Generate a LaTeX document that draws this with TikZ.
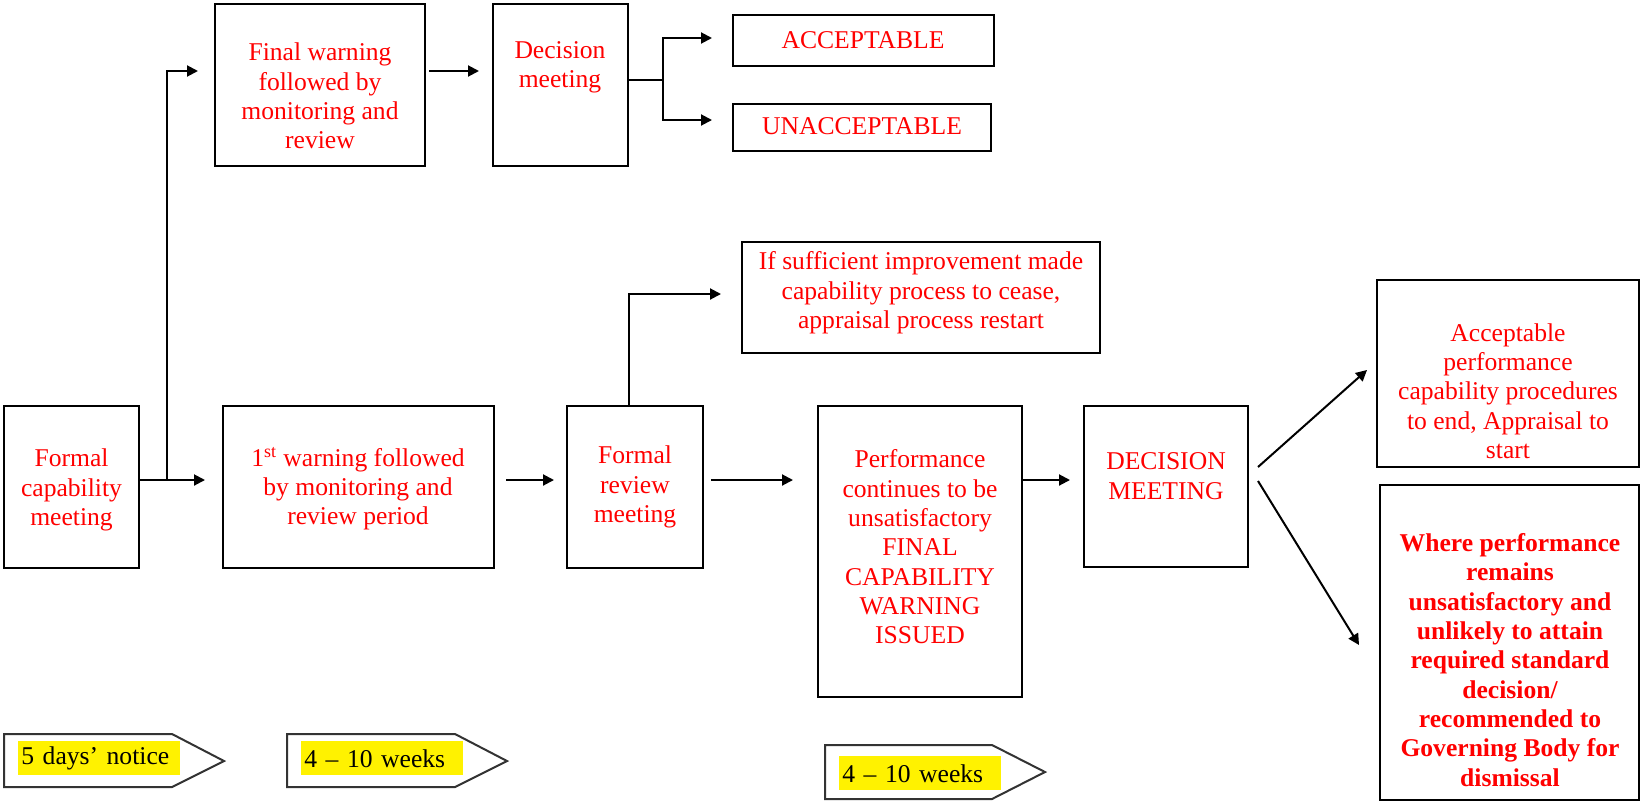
\documentclass[tikz,border=0pt]{standalone}
\usepackage{fontspec}
\setmainfont{Liberation Serif}
\usetikzlibrary{arrows.meta,calc,fit}
\begin{document}
\begin{tikzpicture}[x=0.5pt,y=-0.5pt,
  box/.style={draw, line width=1pt, inner sep=0pt},
  txt/.style={text=red, align=center, font=\fontsize{12.8}{14.65}\selectfont, inner sep=0pt},
  arr/.style={line width=1pt, -{Triangle[length=5.5pt,width=5.5pt]}},
  ln/.style={line width=1pt},
  tagline/.style={draw=black!80, line width=1pt},
  hl/.style={fill=yellow, anchor=north west, minimum height=17pt, text width=78pt,
             inner xsep=1.5pt, inner ysep=0pt, align=left, font=\fontsize{12.8}{14.65}\selectfont}
]
\useasboundingbox (0,0) rectangle (1641,803);

% boxes
\node[box, fit={(4,406) (139,568)}] (fcm) {};
\node[box, fit={(223,406) (494,568)}] (w1) {};
\node[box, fit={(567,406) (703,568)}] (frm) {};
\node[box, fit={(818,406) (1022,697)}] (perf) {};
\node[box, fit={(1084,406) (1248,567)}] (dm2) {};
\node[box, fit={(1377,280) (1639,467)}] (accp) {};
\node[box, fit={(1380,485) (1639,800)}] (where) {};
\node[box, fit={(215,4) (425,166)}] (fw) {};
\node[box, fit={(493,4) (628,166)}] (dm1) {};
\node[box, fit={(733,15) (994,66)}] (acc) {};
\node[box, fit={(733,104) (991,151)}] (unacc) {};
\node[box, fit={(742,242) (1100,353)}] (suff) {};

% texts
\node[txt] (fcmT) at (71.5,490) {Formal\\capability\\meeting};
\node[txt] (w1T) at (358,489) {1\textsuperscript{st} warning followed\\by monitoring and\\review period};
\node[txt] (frmT) at (635,487) {Formal\\review\\meeting};
\node[txt] (perfT) at (920,547) {Performance\\continues to be\\unsatisfactory\\FINAL\\CAPABILITY\\WARNING\\ISSUED};
\node[txt] (dm2T) at (1166,476) {DECISION\\MEETING};
\node[txt] (fwT) at (320,96) {Final warning\\followed by\\monitoring and\\review};
\node[txt] (dm1T) at (560,67) {Decision\\meeting};
\node[txt] (accT) at (863,40) {ACCEPTABLE};
\node[txt] (unaccT) at (862,126) {UNACCEPTABLE};
\node[txt] (suffT) at (921,293) {If sufficient improvement made\\capability process to cease,\\appraisal process restart};
\node[txt] (accpT) at (1508,391) {Acceptable\\performance\\capability procedures\\to end, Appraisal to\\start};
\node[txt, font=\fontsize{12.8}{14.65}\selectfont\bfseries] (whereT) at (1510,660) {Where performance\\remains\\unsatisfactory and\\unlikely to attain\\required standard\\decision/\\recommended to\\Governing Body for\\dismissal};

% connectors
\coordinate (r) at (0,480);
\coordinate (br1) at (167,480);
\coordinate (fwin) at (0,71);
\draw[ln] (fcm.east|-r) -- (br1);
\draw[arr, shorten >=8.5pt] (br1) -- (w1.west|-r);
\draw[arr, shorten >=8pt] (br1) |- (fw.west|-fwin);
\draw[arr, shorten <=5.5pt, shorten >=6pt] (w1.east|-r) -- (frm.west|-r);
\draw[arr, shorten <=3.5pt, shorten >=12pt] (frm.east|-r) -- (perf.west|-r);
\draw[arr, shorten >=6.5pt] (perf.east|-r) -- (dm2.west|-r);
\coordinate (d1) at ($(dm2.east)+(9,-19.5)$);
\coordinate (d2) at ($(dm2.east)+(9,-5.5)$);
\coordinate (a1) at ($(accp.west)+(-9,-3.5)$);
\coordinate (a2) at ($(where.west)+(-20,2.5)$);
\draw[arr] (d1) -- (a1);
\draw[arr] (d2) -- (a2);
\coordinate (up) at (629,0);
\coordinate (sy) at (0,294);
\draw[arr, shorten >=10pt] (frm.north-|up) |- (suff.west|-sy);
\draw[arr, shorten <=1.5pt, shorten >=6.5pt] (fw.east|-fwin) -- (dm1.west|-fwin);
\coordinate (b2) at (663,80);
\coordinate (ay) at (0,38);
\coordinate (uy) at (0,120);
\draw[ln] (dm1.east|-b2) -- (b2);
\draw[arr, shorten >=10pt] (b2) |- (acc.west|-ay);
\draw[arr, shorten >=10pt] (b2) |- (unacc.west|-uy);

% timeline tags
\node[hl] (t1) at (18,741) {5 days’ notice};
\draw[tagline] (4,734) -- (172,734) -- (224,761) -- (172,787) -- (4,787) -- cycle;
\node[hl] (t2) at (301,741) {4 – 10 weeks};
\draw[tagline] (287,734) -- (455,734) -- (507,761) -- (455,787) -- (287,787) -- cycle;
\node[hl] (t3) at (839,756) {4 – 10 weeks};
\draw[tagline] (825,745) -- (992,745) -- (1045,772) -- (992,799) -- (825,799) -- cycle;
\end{tikzpicture}
\end{document}
